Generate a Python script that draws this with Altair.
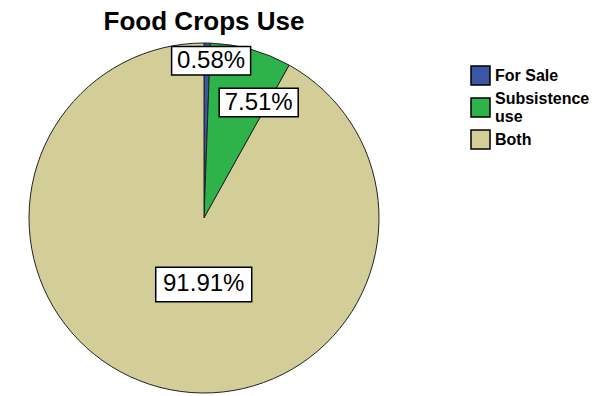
import altair as alt
import pandas as pd

categories = ["For Sale", "Subsistence use", "Both"]
percents = [0.58, 7.51, 91.91]
labels = ["0.58%", "7.51%", "91.91%"]
colors = ["#3C56A6", "#2DB34A", "#D3CE98"]

df = pd.DataFrame({"cat": categories, "pct": percents, "label": labels,
                   "idx": list(range(len(categories)))})

R = 175

color = alt.Color(
    "cat:N",
    scale=alt.Scale(domain=categories, range=colors),
    sort=categories,
    legend=alt.Legend(
        title=None, orient="none", legendX=441, legendY=22,
        symbolType="square", symbolSize=361, symbolStrokeColor="black",
        symbolStrokeWidth=1.5, symbolOpacity=1,
        labelFont="Liberation Sans", labelFontSize=16, labelFontWeight="bold",
        labelColor="black", rowPadding=-3, labelLimit=200, labelOffset=4,
        gridAlign="all",
        labelExpr="length(datum.label) > 10 ? split(datum.label, ' ') : datum.label",
        labelBaseline=alt.ExprRef("length(datum.label) > 10 ? 'line-bottom' : 'middle'"),
    ),
)

pie = alt.Chart(df).mark_arc(outerRadius=R, stroke="#222222", strokeWidth=1).encode(
    theta=alt.Theta("pct:Q", stack=True),
    color=color,
    order=alt.Order("idx:Q"),
)

base = alt.Chart(df).transform_joinaggregate(total="sum(pct)").transform_window(
    cum="sum(pct)", sort=[alt.SortField("idx")], frame=[None, 0]
).transform_calculate(
    mid="(datum.cum - datum.pct / 2) / datum.total * 2 * PI",
    rf="datum.pct < 1 ? 0.9 : (datum.pct < 10 ? 0.73 : 0.38)",
    aoff="datum.pct < 1 ? 0.027 : (datum.pct < 10 ? 0.17 : -0.25)",
    lx="datum.rf * sin(datum.mid + datum.aoff)",
    ly="datum.rf * cos(datum.mid + datum.aoff)",
    bw="length(datum.label) > 5 ? 96 : 79",
    bsize="datum.bw * datum.bw",
)

xs = alt.X("lx:Q", scale=alt.Scale(domain=[-1, 1], nice=False, zero=False), axis=None)
ys = alt.Y("ly:Q", scale=alt.Scale(domain=[-1, 1], nice=False, zero=False), axis=None)

boxes = base.mark_point(
    shape="M-1,-0.36H1V0.36H-1Z", filled=True, fill="white", stroke="black",
    strokeWidth=1.5, opacity=1,
).encode(x=xs, y=ys, size=alt.Size("bsize:Q", scale=None))

texts = base.mark_text(font="Liberation Sans", fontSize=24, color="black").encode(
    x=xs, y=ys, text="label:N"
)

chart = alt.layer(pie, boxes, texts).properties(
    width=2 * R,
    height=2 * R,
    title=alt.Title("Food Crops Use", font="Liberation Sans", fontSize=26,
                    fontWeight="bold", color="black", anchor="middle", offset=6),
    padding={"left": 29, "top": 43, "right": 230, "bottom": 3},
    autosize="none",
    background="white",
).configure_view(stroke=None)

chart.save("out.html", embed_options={"renderer": "svg", "actions": False})
